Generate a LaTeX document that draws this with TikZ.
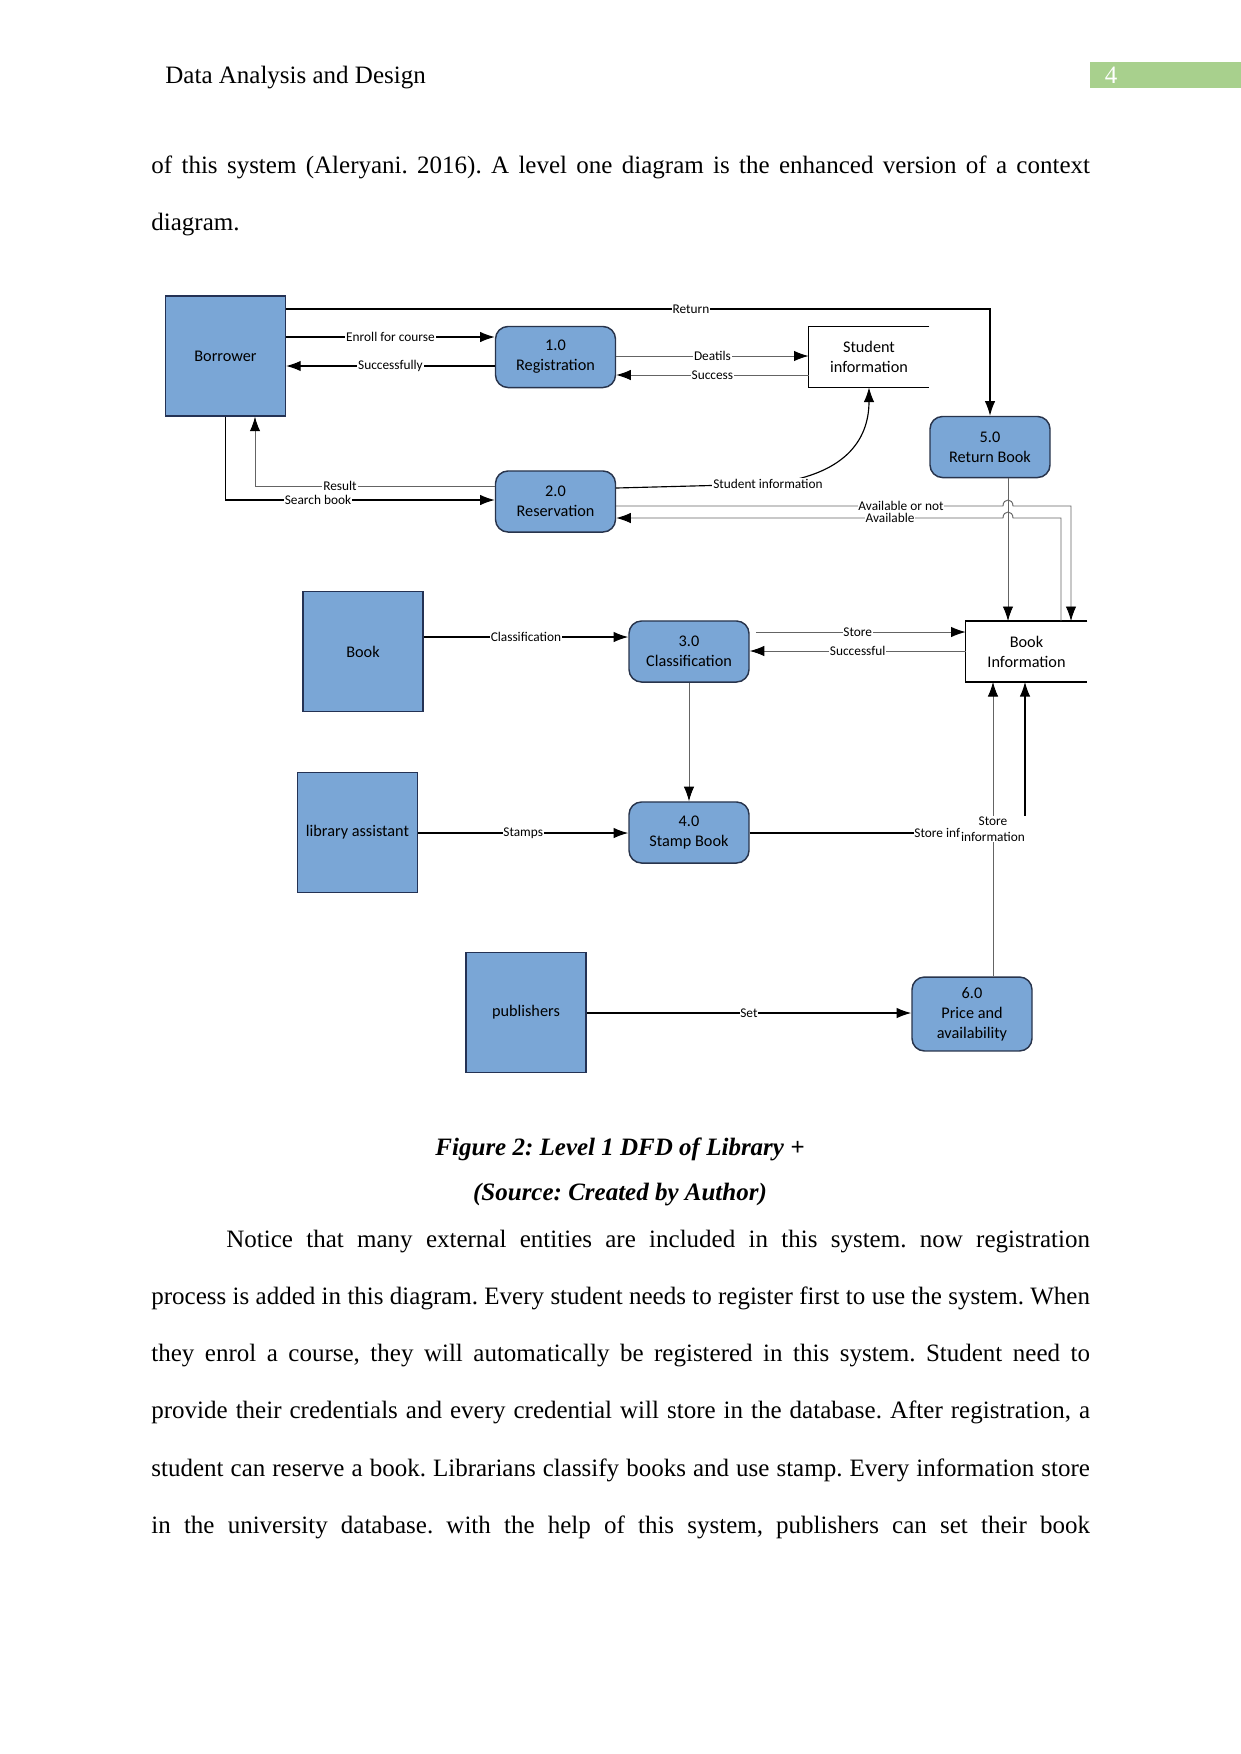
\documentclass[tikz,border=0pt]{standalone}
\usepackage{fontspec}
\setmainfont{Liberation Serif}
\newfontfamily\dfdfont{Carlito}
\usetikzlibrary{arrows.meta}
\frenchspacing

\definecolor{boxblue}{RGB}{122,166,214}
\definecolor{entline}{RGB}{36,50,84}
\definecolor{procline}{RGB}{40,52,76}
\definecolor{linegray}{RGB}{100,100,100}
\definecolor{pagegreen}{RGB}{168,208,141}

\tikzset{
	entity/.style={draw=entline, line width=0.6pt, fill=boxblue, minimum width=57.6pt, minimum height=57.6pt, inner sep=0pt, font={\dfdfont\fontsize{7.8}{9.6}\selectfont}},
	proc/.style={draw=procline, line width=0.7pt, fill=boxblue, rounded corners=6pt, minimum width=57.6pt, minimum height=29.3pt, inner sep=0pt, align=center, font={\dfdfont\fontsize{7.8}{9.6}\selectfont}},
	store/.style={minimum width=57.6pt, minimum height=28.8pt, inner sep=0pt, align=center, font={\dfdfont\fontsize{7.8}{9.6}\selectfont}},
	lbl/.style={fill=white, inner sep=0.4pt, align=center, font={\dfdfont\fontsize{6.4}{7.7}\selectfont}},
	flow/.style={draw=black, line width=0.55pt, -{Latex[length=7pt,width=5pt,color=black]}},
	gflow/.style={flow, draw=linegray, line width=0.45pt},
	bodytext/.style={anchor=base west, inner sep=0pt, font={\fontsize{12}{27.5}\selectfont}},
}

\begin{document}
\begin{tikzpicture}[x=0.48pt, y=-0.48pt]
	% Page frame
	\useasboundingbox (0,0) rectangle (1241,1754);

	% Running head
	\node[bodytext] (head) at (165,83) {Data Analysis and Design};
	\fill[pagegreen] (1090,62) rectangle (1241,88);
	\node[anchor=base, inner sep=0pt, text=white, font={\fontsize{12}{14}\selectfont}] (pageno) at (1111,83) {4};

	% Text above the figure
	\node[bodytext, text width=450.5pt, align=justify] (intro) at (151,173) {\parfillskip=0pt of this system (Aleryani. 2016). A level one diagram is the enhanced version of a context\par};
	\node[bodytext] (introend) at (151,230) {diagram.};

	% Entities, processes and stores
	\node[entity] (borrower) at (225.5,356) {Borrower};
	\node[proc] (reg) at (555.5,357) {1.0\\Registration};
	\node[store] (sinfo) at (869,357) {Student\\information};
	\node[proc] (ret) at (990,447) {5.0\\Return Book};
	\node[proc] (res) at (555.5,501.5) {2.0\\Reservation};
	\node[entity] (book) at (363,651.5) {Book};
	\node[proc] (cls) at (689,651.5) {3.0\\Classification};
	\node[store, minimum width=58pt] (binfo) at (1026.5,651.5) {Book\\Information};
	\node[entity] (assist) at (357.5,832.5) {library assistant};
	\node[proc] (stamp) at (689,832.5) {4.0\\Stamp Book};
	\node[entity] (pub) at (526,1012.5) {publishers};
	\node[proc, minimum height=35.5pt] (price) at (972,1014) {6.0\\Price and\\availability};

	% Open-ended store outlines
	\foreach \st in {sinfo, binfo} {
		\draw[line width=0.6pt] (\st.north east) -- (\st.north west) -- (\st.south west) -- (\st.south east);
	}

	% Borrower and registration
	\draw[flow] (borrower.east |- 0,309) -- (691,309) node[lbl]{Return} -| (ret.north);
	\draw[flow] (borrower.east |- 0,337) -- node[lbl]{Enroll for course} (reg.west |- 0,337);
	\draw[flow] (reg.west |- 0,366) -- node[lbl]{Successfully} (borrower.east |- 0,366);
	\draw[gflow] (reg.east |- 0,356) -- node[lbl]{Deatils} (sinfo.west |- 0,356);
	\draw[gflow] (sinfo.west |- 0,375) -- node[lbl]{Success} (reg.east |- 0,375);

	% Reservation
	\draw[gflow] (res.west |- 0,486) -- (340,486) node[lbl]{Result} -| (borrower.south -| 255,0);
	\draw[flow] (borrower.south) |- (318,500) node[lbl]{Search book} -- (res.west |- 0,500);
	\draw[flow] (res.east |- 0,488) -- (768,484) node[lbl]{Student information} .. controls (845,476) and (869,440) .. (sinfo.south);

	% Availability, hopping over the return line
	\draw[gflow] (ret.south -| 1008,0) -- (binfo.north -| 1008,0);
	\draw[gflow] (res.east |- 0,506) -- (901,506) node[lbl]{Available or not} -- (1003,506) .. controls (1003,498) and (1013,498) .. (1013,506) -| (binfo.north -| 1071,0);
	\draw[gflow] (binfo.north -| 1061,0) |- (1013,518) .. controls (1013,510) and (1003,510) .. (1003,518) -- (890,518) node[lbl]{Available} -- (res.east |- 0,518);

	% Classification and stamping
	\draw[flow] (book.east |- 0,637) -- node[lbl]{Classification} (cls.west |- 0,637);
	\draw[gflow, shorten <=3pt] (cls.east |- 0,632) -- node[lbl]{Store} (binfo.west |- 0,632);
	\draw[gflow] (binfo.west |- 0,651) -- node[lbl]{Successful} (cls.east |- 0,651);
	\draw[gflow] (cls.south) -- (stamp.north);
	\draw[flow] (assist.east |- 0,833) -- node[lbl]{Stamps} (stamp.west |- 0,833);
	\draw[flow] (stamp.east |- 0,833) -- (913,833) node[lbl, anchor=west]{Store inf} -| (binfo.south -| 1025,0);

	% Publishers
	\draw[flow] (pub.east |- 0,1013) -- node[lbl]{Set} (price.west |- 0,1013);
	\draw[gflow] (price.north -| 993,0) -- node[lbl]{Store\\information} (binfo.south -| 993,0);

	% Caption
	\node[anchor=base, inner sep=0pt, font={\fontsize{12}{14}\selectfont\bfseries\itshape}] (cap) at (620,1155) {Figure 2: Level 1 DFD of Library +};
	\node[anchor=base, inner sep=0pt, font={\fontsize{12}{14}\selectfont\bfseries\itshape}] (source) at (620,1200) {(Source: Created by Author)};

	% Text below the figure
	\node[bodytext, text width=450.5pt, align=justify] (para) at (151,1247) {\parfillskip=0pt\hyphenpenalty=10000\tolerance=9999\hspace*{36pt}Notice that many external entities are included in this system. now registration\linebreak
		process is added in this diagram. Every student needs to register first to use the system. When\linebreak
		they enrol a course, they will automatically be registered in this system. Student need to\linebreak
		provide their credentials and every credential will store in the database. After registration, a\linebreak
		student can reserve a book. Librarians classify books and use stamp. Every information store\linebreak
		in the university database. with the help of this system, publishers can set their book\par};
\end{tikzpicture}
\end{document}
